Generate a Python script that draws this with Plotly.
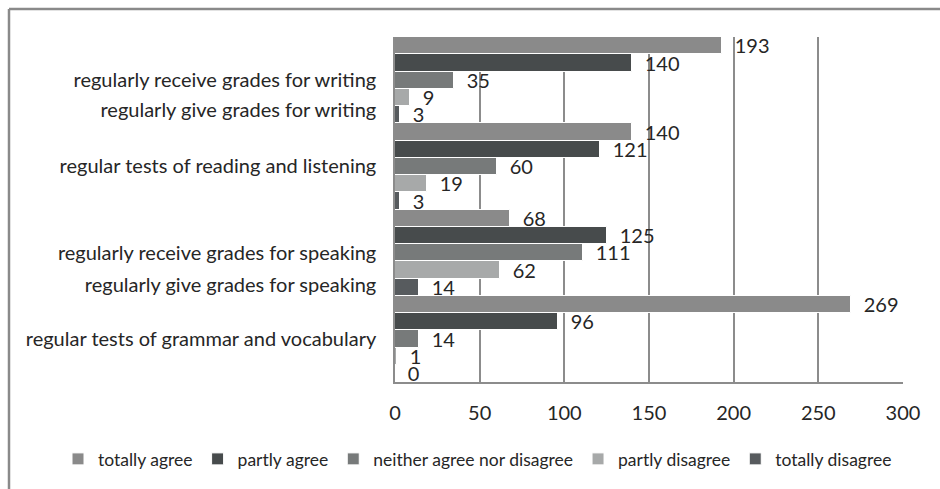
import plotly.graph_objects as go

# Survey responses, one value per item group (listed top group first)
series_names = ["totally agree", "partly agree", "neither agree nor disagree",
                "partly disagree", "totally disagree"]
totally_agree = [193, 140, 68, 269]
partly_agree = [140, 121, 125, 96]
neither = [35, 60, 111, 14]
partly_disagree = [9, 19, 62, 1]
totally_disagree = [3, 3, 14, 0]

# group slots on the value axis (top group has the highest slot)
group_slots = [3, 2, 1, 0]

# item labels and where they sit along the category axis
item_labels = ["regularly receive grades for writing",
               "regularly give grades for writing",
               "regular tests of reading and listening",
               "regularly receive grades for speaking",
               "regularly give grades for speaking",
               "regular tests of grammar and vocabulary"]
label_slots = [3, 2.65, 2, 1, 0.63, 0]

x_ticks = [0, 50, 100, 150, 200, 250, 300]

series_values = [totally_agree, partly_agree, neither, partly_disagree, totally_disagree]
series_colors = ["#8a8a8a", "#474b4c", "#777a7a", "#a7a9a9", "#575b5e"]

FONT = "Lato"
FS = 20
TEXT = "#262626"
GRID = "#8c8c8c"

fig = go.Figure()
# add in reverse so the first series is drawn at the top of each group
for rank in range(len(series_names) - 1, -1, -1):
    fig.add_trace(go.Bar(
        name=series_names[rank],
        x=series_values[rank],
        y=group_slots,
        orientation="h",
        marker=dict(color=series_colors[rank], line=dict(color="white", width=1)),
        texttemplate="\u00a0\u00a0%{x}",
        textposition="outside",
        constraintext="none",
        textfont=dict(family=FONT, size=FS, color=TEXT),
        cliponaxis=False,
        legendrank=rank,
    ))

W, H = 940, 489
L, R, T, B = 395, 37, 37, 107
pw, ph = W - L - R, H - T - B

def px_x(p):
    return (p - L) / pw

def px_y(p):
    return (H - B - p) / ph

fig.update_layout(
    width=W, height=H,
    margin=dict(l=L, r=R, t=T, b=B, autoexpand=False),
    paper_bgcolor="white", plot_bgcolor="white",
    barmode="group", bargap=0, bargroupgap=0,
    font=dict(family=FONT, size=FS, color=TEXT),
    showlegend=True,
    # anchored left of and below the plot area so it may span the full width
    legend=dict(orientation="h", x=px_x(58), y=px_y(459),
                xanchor="left", yanchor="middle",
                font=dict(family=FONT, size=17.5, color=TEXT),
                itemwidth=30, tracegroupgap=0),
    xaxis=dict(range=[0, 300], tickvals=x_ticks, showgrid=True,
               gridcolor=GRID, gridwidth=1.5, showline=True,
               linecolor=GRID, linewidth=1.5, zeroline=False,
               ticks="", ticklabelstandoff=12,
               tickfont=dict(family=FONT, size=FS, color=TEXT)),
    yaxis=dict(range=[-0.5, 3.5], tickvals=label_slots, ticktext=item_labels,
               showgrid=False, showline=True, linecolor=GRID, linewidth=1.5,
               zeroline=False, ticks="", ticklabelstandoff=13,
               tickfont=dict(family=FONT, size=FS, color=TEXT)),
    shapes=[
        # outer frame: top and left edges
        dict(type="line", xref="paper", yref="paper",
             x0=px_x(9), y0=px_y(9), x1=px_x(940), y1=px_y(9),
             line=dict(color="#8a8a8a", width=2.5)),
        dict(type="line", xref="paper", yref="paper",
             x0=px_x(9), y0=px_y(9), x1=px_x(9), y1=px_y(489),
             line=dict(color="#8a8a8a", width=2.5)),
    ],
)

fig.write_html("out.html")
